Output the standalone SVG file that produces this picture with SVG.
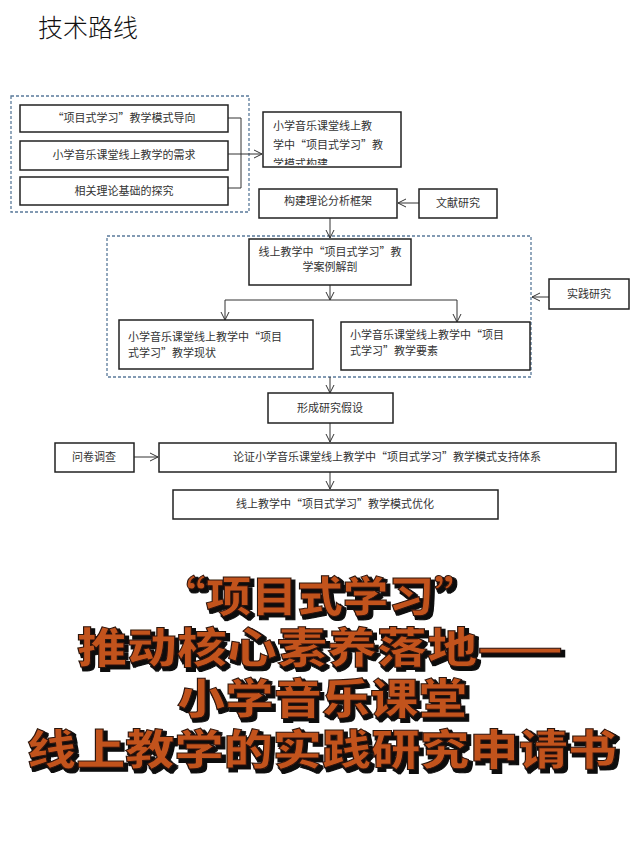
<svg xmlns="http://www.w3.org/2000/svg" width="640" height="848" viewBox="0 0 640 848">
<defs>
<style>
.b{fill:#fff;stroke:#222;stroke-width:1.5}
.d{fill:none;stroke:#5a7a9a;stroke-width:1.3;stroke-dasharray:3 2}
.t{font-family:"Noto Sans CJK SC",sans-serif;font-size:11px;fill:#333}
.c{stroke:#333;stroke-width:1;fill:none}
.big{font-family:"Noto Sans CJK SC",sans-serif;font-weight:900;text-anchor:middle;fill:#c2521f;stroke:#2a1208;stroke-width:1;filter:url(#sh)}
</style>
<filter id="sh" x="-5%" y="-20%" width="115%" height="150%">
<feMorphology in="SourceAlpha" operator="dilate" radius="1.2" result="m"/>
<feOffset in="m" dx="3" dy="3" result="o"/>
<feFlood flood-color="#111"/>
<feComposite in2="o" operator="in" result="s"/>
<feMerge><feMergeNode in="s"/><feMergeNode in="SourceGraphic"/></feMerge>
</filter>
<marker id="a" markerWidth="10" markerHeight="10" refX="9" refY="5" orient="auto" markerUnits="userSpaceOnUse"><path d="M1,1 L9,5 L1,9" fill="none" stroke="#333" stroke-width="1"/></marker>
<clipPath id="cl"><rect x="263" y="112" width="138" height="53"/></clipPath>
</defs>
<rect width="640" height="848" fill="#fff"/>
<text x="38" y="37" style="font-family:'Noto Sans CJK SC',sans-serif;font-size:25px;font-weight:300;fill:#111">技术路线</text>

<rect class="d" x="11" y="96" width="238" height="116"/>
<rect class="d" x="107" y="236" width="424" height="141"/>

<g id="connectors">
<path class="c" d="M228,118 H241 V188 H228"/>
<path class="c" d="M228,154 H262" marker-end="url(#a)"/>
<path class="c" d="M419,203 H398" marker-end="url(#a)"/>
<path class="c" d="M330,218 V238" marker-end="url(#a)"/>
<path class="c" d="M330,285 V300" marker-end="url(#a)"/>
<path class="c" d="M225,300 H457"/>
<path class="c" d="M225,300 V320" marker-end="url(#a)"/>
<path class="c" d="M457,300 V322" marker-end="url(#a)"/>
<path class="c" d="M549,297 H532" marker-end="url(#a)"/>
<path class="c" d="M330,377 V393" marker-end="url(#a)"/>
<path class="c" d="M330,423 V442" marker-end="url(#a)"/>
<path class="c" d="M134,457 H158" marker-end="url(#a)"/>
<path class="c" d="M330,472 V489" marker-end="url(#a)"/>
</g>

<g id="n1"><rect class="b" x="20" y="105" width="208" height="27"/><text class="t" x="124" y="122" text-anchor="middle">“项目式学习”教学模式导向</text></g>
<g id="n2"><rect class="b" x="20" y="141" width="208" height="29"/><text class="t" x="124" y="159" text-anchor="middle">小学音乐课堂线上教学的需求</text></g>
<g id="n3"><rect class="b" x="20" y="177" width="208" height="28"/><text class="t" x="124" y="195" text-anchor="middle">相关理论基础的探究</text></g>
<g id="n4"><rect class="b" x="263" y="112" width="138" height="55"/><g clip-path="url(#cl)"><text class="t" x="273" y="130">小学音乐课堂线上教</text><text class="t" x="273" y="149">学中“项目式学习”教</text><text class="t" x="273" y="168">学模式构建</text></g></g>
<g id="n5"><rect class="b" x="259" y="189" width="138" height="29"/><text class="t" x="328" y="205" text-anchor="middle">构建理论分析框架</text></g>
<g id="n6"><rect class="b" x="419" y="189" width="78" height="29"/><text class="t" x="458" y="207" text-anchor="middle">文献研究</text></g>
<g id="n7"><rect class="b" x="249" y="239" width="162" height="46"/><text class="t" x="330" y="256" text-anchor="middle">线上教学中“项目式学习”教</text><text class="t" x="330" y="271" text-anchor="middle">学案例解剖</text></g>
<g id="n8"><rect class="b" x="119" y="320" width="194" height="49"/><text class="t" x="128" y="341">小学音乐课堂线上教学中“项目</text><text class="t" x="128" y="357">式学习”教学现状</text></g>
<g id="n9"><rect class="b" x="341" y="322" width="189" height="48"/><text class="t" x="350" y="339">小学音乐课堂线上教学中“项目</text><text class="t" x="350" y="355">式学习”教学要素</text></g>
<g id="n10"><rect class="b" x="549" y="279" width="80" height="30"/><text class="t" x="589" y="298" text-anchor="middle">实践研究</text></g>
<g id="n11"><rect class="b" x="268" y="393" width="125" height="30"/><text class="t" x="330" y="412" text-anchor="middle">形成研究假设</text></g>
<g id="n12"><rect class="b" x="55" y="443" width="79" height="29"/><text class="t" x="94" y="461" text-anchor="middle">问卷调查</text></g>
<g id="n13"><rect class="b" x="159" y="443" width="457" height="29"/><text class="t" x="387" y="461" text-anchor="middle">论证小学音乐课堂线上教学中“项目式学习”教学模式支持体系</text></g>
<g id="n14"><rect class="b" x="173" y="490" width="325" height="29"/><text class="t" x="335" y="508" text-anchor="middle">线上教学中“项目式学习”教学模式优化</text></g>

<g id="title" class="big">
<text x="320" y="612" font-size="42" textLength="320" lengthAdjust="spacingAndGlyphs">“项目式学习”</text>
<text x="320" y="663" font-size="42" textLength="486" lengthAdjust="spacingAndGlyphs">推动核心素养落地——</text>
<text x="322" y="714" font-size="42" textLength="290" lengthAdjust="spacingAndGlyphs">小学音乐课堂</text>
<text x="322" y="765" font-size="42" textLength="590" lengthAdjust="spacingAndGlyphs">线上教学的实践研究申请书</text>
</g>
</svg>
